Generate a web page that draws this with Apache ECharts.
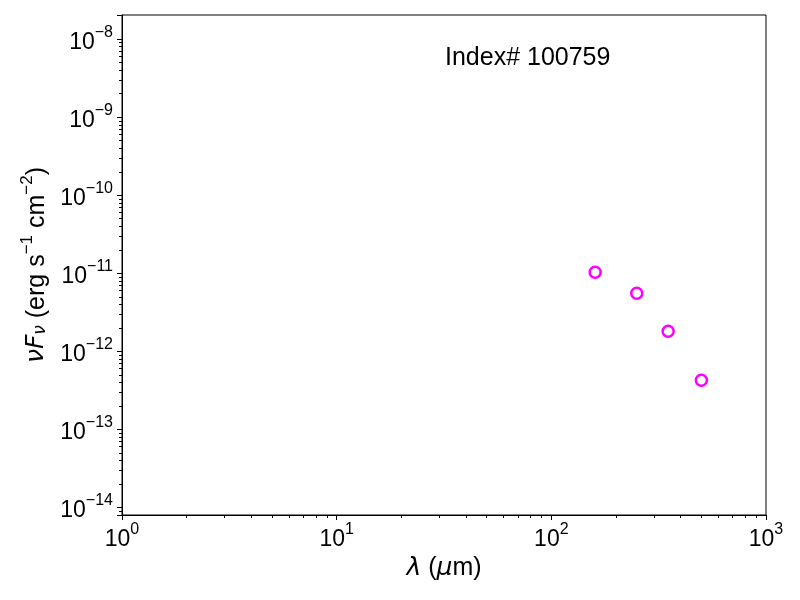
<!DOCTYPE html>
<html>
<head>
<meta charset="utf-8">
<script src="https://cdn.jsdelivr.net/npm/echarts@6/dist/echarts.min.js"></script>
<style>
  html, body { margin: 0; padding: 0; background: #fff; }
  #chart { width: 800px; height: 600px; }
</style>
</head>
<body>
<div id="chart"></div>
<script>
// 波长 (μm) 与 νFν (erg s^-1 cm^-2)
const wavelength = [160, 250, 350, 500];
const nuFnu = [1.03e-11, 5.54e-12, 1.81e-12, 4.27e-13];

// 坐标轴范围
const xRange = [1, 1000];
const yRange = [8e-15, 2.04e-8];

const titleText = 'Index# 100759';

const baseFont = 'Liberation Sans, Arial, Helvetica, sans-serif';

// 对数轴次刻度 (2..9 × 10^n)，以 log10 表示
function minorTicks(range) {
    const lo = Math.log10(range[0]);
    const hi = Math.log10(range[1]);
    const out = [];
    for (let d = Math.floor(lo); d <= Math.ceil(hi); d++) {
        for (let k = 2; k <= 9; k++) {
            const v = d + Math.log10(k);
            if (v >= lo - 1e-9 && v <= hi + 1e-9) out.push(v);
        }
    }
    return out;
}

// 10^n 标签
function powerLabel(v) {
    const e = Math.log10(v);
    const n = Math.round(e);
    if (Math.abs(e - n) > 1e-6) return '';
    return '{b|10}{s|' + String(n).replace('-', '\u2212') + '}';
}

const labelRich = {
    b: { fontSize: 23, fontFamily: baseFont, color: '#000', lineHeight: 29, verticalAlign: 'bottom' },
    s: { fontSize: 16, fontFamily: baseFont, color: '#000', lineHeight: 16, verticalAlign: 'top' }
};

const nameRich = {
    t: { fontSize: 25, fontFamily: baseFont, color: '#000', lineHeight: 31, verticalAlign: 'bottom' },
    i: { fontSize: 25, fontFamily: 'DejaVu Sans', fontStyle: 'italic', color: '#000', lineHeight: 31, verticalAlign: 'bottom' },
    sub: { fontSize: 17, fontFamily: 'DejaVu Sans', fontStyle: 'italic', color: '#000', lineHeight: 22, verticalAlign: 'bottom' },
    sup: { fontSize: 17, fontFamily: baseFont, color: '#000', lineHeight: 17, verticalAlign: 'top' }
};

const chart = echarts.init(document.getElementById('chart'));

const option = {
    backgroundColor: '#fff',
    animation: false,
    title: {
        text: titleText,
        left: 440,
        top: 41,
        textStyle: { fontSize: 25, fontWeight: 'normal', fontFamily: baseFont, color: '#000' }
    },
    grid: {
        left: 122,
        right: 34,
        top: 15,
        bottom: 85,
        show: true,
        borderColor: '#000',
        borderWidth: 1,
        backgroundColor: 'transparent'
    },
    xAxis: [
        {
            type: 'log',
            logBase: 10,
            min: xRange[0],
            max: xRange[1],
            position: 'bottom',
            name: '{i|λ}{t| (}{i|μ}{t|m)}',
            nameLocation: 'middle',
            nameGap: 34,
            nameTextStyle: { rich: nameRich },
            axisLine: { show: true, lineStyle: { color: '#000', width: 1 } },
            axisTick: { show: true, inside: false, length: 5, lineStyle: { color: '#000' } },
            axisLabel: { formatter: powerLabel, margin: 7, rich: labelRich, showMinLabel: true, showMaxLabel: true },
            splitLine: { show: false }
        },
        {
            type: 'value',
            min: Math.log10(xRange[0]),
            max: Math.log10(xRange[1]),
            position: 'bottom',
            axisLine: { show: false },
            axisTick: { show: true, inside: false, length: 3, customValues: minorTicks(xRange), lineStyle: { color: '#000' } },
            axisLabel: { show: false },
            splitLine: { show: false }
        }
    ],
    yAxis: [
        {
            type: 'log',
            logBase: 10,
            min: yRange[0],
            max: yRange[1],
            position: 'left',
            name: '{i|ν}{i|F}{sub|ν}{t| (erg s}{sup|\u22121}{t| cm}{sup|\u22122}{t|)}',
            nameLocation: 'middle',
            nameGap: 71,
            nameRotate: 90,
            nameTextStyle: { rich: nameRich },
            axisLine: { show: true, lineStyle: { color: '#000', width: 1 } },
            axisTick: { show: true, inside: false, length: 5, lineStyle: { color: '#000' } },
            axisLabel: { formatter: powerLabel, margin: 9, rich: labelRich, showMinLabel: true, showMaxLabel: true },
            splitLine: { show: false }
        },
        {
            type: 'value',
            min: Math.log10(yRange[0]),
            max: Math.log10(yRange[1]),
            position: 'left',
            axisLine: { show: false },
            axisTick: { show: true, inside: false, length: 3, customValues: minorTicks(yRange), lineStyle: { color: '#000' } },
            axisLabel: { show: false },
            splitLine: { show: false }
        }
    ],
    series: [
        {
            type: 'scatter',
            xAxisIndex: 0,
            yAxisIndex: 0,
            data: wavelength.map((w, i) => [w, nuFnu[i]]),
            symbol: 'circle',
            symbolSize: 11,
            itemStyle: { color: 'rgba(0,0,0,0)', borderColor: '#ff00ff', borderWidth: 2.5, opacity: 1 }
        }
    ]
};

chart.setOption(option);
</script>
</body>
</html>
